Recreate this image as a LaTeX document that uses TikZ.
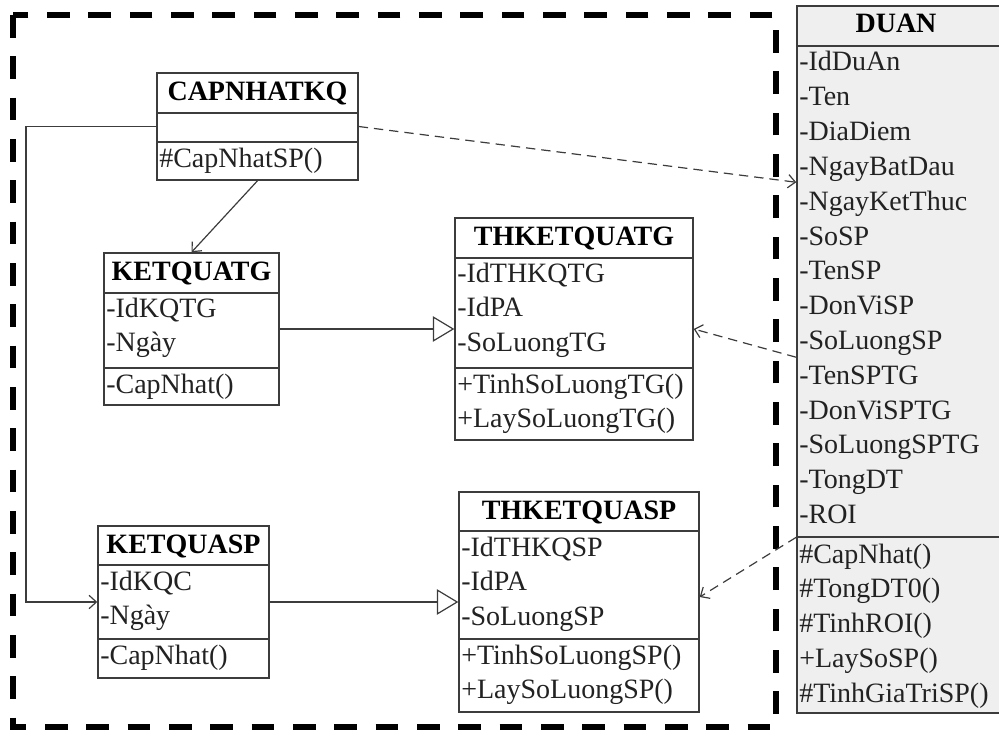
\documentclass[tikz,border=0pt]{standalone}
\usepackage{fontspec}
\setmainfont{Liberation Serif}
\usetikzlibrary{arrows.meta,calc,fit}
\definecolor{ink}{HTML}{222222}
\definecolor{edge}{HTML}{3C3C3C}
\definecolor{panel}{HTML}{EFEFEF}
\begin{document}
\begin{tikzpicture}[x=0.75pt,y=-0.75pt,
  classbox/.style={draw=edge, line width=1.1pt, inner sep=0pt, fill=white},
  divider/.style={draw=edge, line width=1.1pt},
  hdr/.style={font=\fontsize{21}{24}\selectfont\bfseries, text=black, inner sep=0pt, anchor=base},
  row/.style={font=\fontsize{21}{24}\selectfont, text=ink, inner sep=0pt, anchor=base west},
  link/.style={draw=edge, line width=0.9pt},
  barb/.style={-{Straight Barb[length=5.5pt,width=10pt]}},
  inherit/.style={-{Triangle[open,length=16pt,width=19pt,fill=white]}},
  uses/.style={link, dash pattern=on 7pt off 4.5pt, barb},
  frame/.style={draw=black, line width=3.8pt, dash pattern=on 17pt off 14pt}
]
\useasboundingbox (0,0) rectangle (999,735);
\clip (0,0) rectangle (999,735);

% package boundary
\draw[frame] (13,15) rectangle (776,727);

% CAPNHATKQ
\node[classbox, fit={(157,73) (358,180)}] (capnhat) {};
\draw[divider] (157,113) -- (358,113);
\draw[divider] (157,142) -- (358,142);
\node[hdr] (capnhat-h) at (257.5,100) {CAPNHATKQ};
\node[row] (capnhat-m1) at (159,167) {\#CapNhatSP()};

% KETQUATG
\node[classbox, fit={(104,253) (279,405)}] (ketquatg) {};
\draw[divider] (104,293) -- (279,293);
\draw[divider] (104,368) -- (279,368);
\node[hdr] (ketquatg-h) at (191.5,280) {KETQUATG};
\foreach \t [count=\i] in {-IdKQTG,-Ngày}
  \node[row] (ketquatg-a\i) at (106,{317+34.5*(\i-1)}) {\t};
\node[row] (ketquatg-m1) at (106,393) {-CapNhat()};

% THKETQUATG
\node[classbox, fit={(455,218) (693,440)}] (thkqtg) {};
\draw[divider] (455,258) -- (693,258);
\draw[divider] (455,368) -- (693,368);
\node[hdr] (thkqtg-h) at (574,245) {THKETQUATG};
\foreach \t [count=\i] in {-IdTHKQTG,-IdPA,-SoLuongTG}
  \node[row] (thkqtg-a\i) at (457,{282+34.5*(\i-1)}) {\t};
\foreach \t [count=\i] in {+TinhSoLuongTG(),+LaySoLuongTG()}
  \node[row] (thkqtg-m\i) at (457,{393+34.5*(\i-1)}) {\t};

% KETQUASP
\node[classbox, fit={(98,526) (269,678)}] (ketquasp) {};
\draw[divider] (98,565) -- (269,565);
\draw[divider] (98,639) -- (269,639);
\node[hdr] (ketquasp-h) at (183.5,553) {KETQUASP};
\foreach \t [count=\i] in {-IdKQC,-Ngày}
  \node[row] (ketquasp-a\i) at (100,{590+34.5*(\i-1)}) {\t};
\node[row] (ketquasp-m1) at (100,664) {-CapNhat()};

% THKETQUASP
\node[classbox, fit={(459,492) (699,712)}] (thkqsp) {};
\draw[divider] (459,531) -- (699,531);
\draw[divider] (459,639) -- (699,639);
\node[hdr] (thkqsp-h) at (579,519) {THKETQUASP};
\foreach \t [count=\i] in {-IdTHKQSP,-IdPA,-SoLuongSP}
  \node[row] (thkqsp-a\i) at (461,{556+34.5*(\i-1)}) {\t};
\foreach \t [count=\i] in {+TinhSoLuongSP(),+LaySoLuongSP()}
  \node[row] (thkqsp-m\i) at (461,{664+34.5*(\i-1)}) {\t};

% DUAN
\node[classbox, fill=panel, fit={(797,6) (1010,713)}] (duan) {};
\draw[divider] (797,46) -- (1010,46);
\draw[divider] (797,537) -- (1010,537);
\node[hdr] (duan-h) at (896,33) {DUAN};
\foreach \t [count=\i] in {-IdDuAn,-Ten,-DiaDiem,-NgayBatDau,-NgayKetThuc,-SoSP,-TenSP,-DonViSP,-SoLuongSP,-TenSPTG,-DonViSPTG,-SoLuongSPTG,-TongDT,-ROI}
  \node[row] (duan-a\i) at (799,{71+34.8*(\i-1)}) {\t};
\foreach \t [count=\i] in {\#CapNhat(),\#TongDT0(),\#TinhROI(),+LaySoSP(),\#TinhGiaTriSP()}
  \node[row] (duan-m\i) at (799,{563+34.8*(\i-1)}) {\t};

% associations
\coordinate (rail) at (26,0);
\draw[link, barb] (capnhat.west) -| (rail |- ketquasp.west) -- (ketquasp.west);
\draw[link, barb] (capnhat.south) -- (ketquatg.north);

% generalisations
\draw[link, inherit] (ketquatg.east) -- (thkqtg.west);
\draw[link, inherit] (ketquasp.east) -- (thkqsp.west);

% dependencies on DUAN
\draw[uses] (capnhat.east) -- ($(duan.north west)+(0,177)$);
\draw[uses] ($(duan.north west)+(0,352)$) -- (thkqtg.east);
\draw[uses] ($(duan.north west)+(0,532)$) -- ($(thkqsp.east)+(0,-5)$);
\end{tikzpicture}
\end{document}
